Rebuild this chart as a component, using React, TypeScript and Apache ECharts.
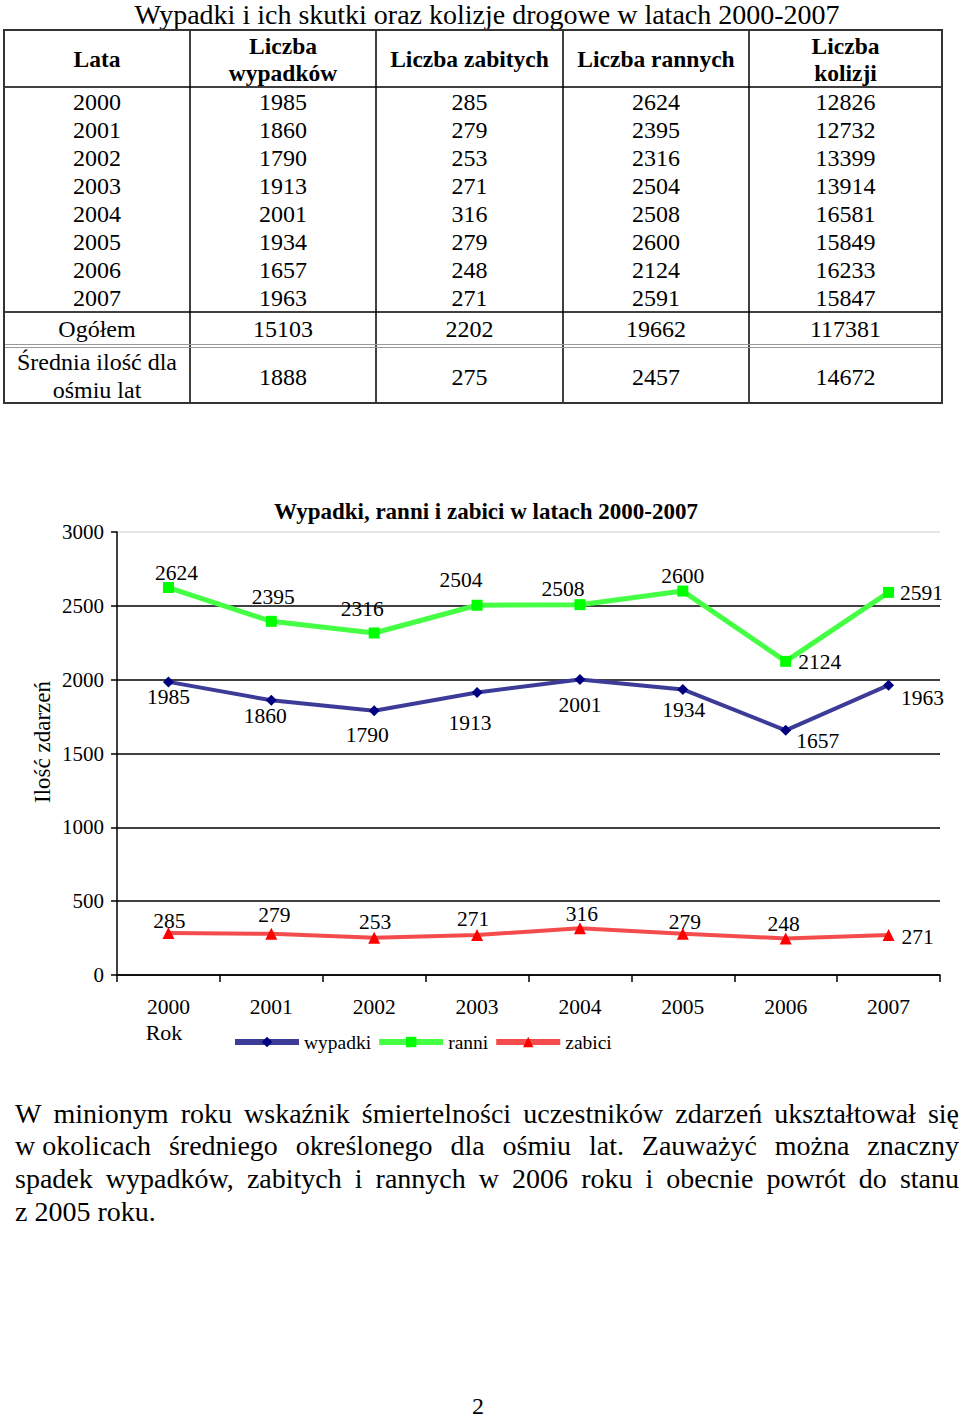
import React, { useEffect, useRef } from "react";
import * as echarts from "echarts";

// ---------- data ----------
const years = ["2000", "2001", "2002", "2003", "2004", "2005", "2006", "2007"];
const wypadki = [1985, 1860, 1790, 1913, 2001, 1934, 1657, 1963];
const zabici = [285, 279, 253, 271, 316, 279, 248, 271];
const ranni = [2624, 2395, 2316, 2504, 2508, 2600, 2124, 2591];
const kolizje = [12826, 12732, 13399, 13914, 16581, 15849, 16233, 15847];
const ogolem = [15103, 2202, 19662, 117381];
const srednia = [1888, 275, 2457, 14672];
const seriesNames = ["wypadki", "ranni", "zabici"];

const tableTitle = "Wypadki i ich skutki oraz kolizje drogowe w latach 2000-2007";
const headers = [["Lata"], ["Liczba", "wypadków"], ["Liczba zabitych"], ["Liczba rannych"], ["Liczba", "kolizji"]];
const ogolemLabel = "Ogółem";
const sredniaLabel = ["Średnia ilość dla", "ośmiu lat"];
const chartTitle = "Wypadki, ranni i zabici w latach 2000-2007";
const yAxisName = "Ilość zdarzeń";
const xAxisName = "Rok";
const paragraph = [
  ["W", "minionym", "roku", "wskaźnik", "śmiertelności", "uczestników", "zdarzeń", "ukształtował", "się"],
  ["w okolicach", "średniego", "określonego", "dla", "ośmiu", "lat.", "Zauważyć", "można", "znaczny"],
  ["spadek", "wypadków,", "zabitych", "i", "rannych", "w", "2006", "roku", "i", "obecnie", "powrót", "do", "stanu"],
  ["z 2005 roku."],
];
const pageNumber = "2";

// ---------- layout / style (label offsets relative to the point) ----------
const wypOff = [[0, 15], [-6, 16], [-7, 24], [-7, 30], [0, 25], [1, 21], [32, 11], [34, 13]];
const ranOff = [[8, -15], [2, -24], [-12, -24], [-16, -25], [-17, -16], [0, -15], [34, 1], [33, 1]];
const zabOff = [[1, -12], [3, -19], [1, -16], [-4, -16], [2, -14], [2, -12], [-2, -14], [29, 2]];

const FF = '"Liberation Serif", "Times New Roman", serif';

function measure(text: string, size: number, weight = "normal") {
  const c = document.createElement("canvas").getContext("2d") as CanvasRenderingContext2D;
  c.font = `${weight} ${size}px ${FF}`;
  return c.measureText(text).width;
}

function txt(text: string, x: number, y: number, size: number, opts: any = {}) {
  return {
    type: "text",
    x,
    y,
    rotation: opts.rotation || 0,
    scaleX: opts.scaleX || 1,
    style: {
      text,
      fill: "#000",
      fontSize: size,
      fontFamily: FF,
      fontWeight: opts.weight || "normal",
      align: opts.align || "center",
      verticalAlign: "middle",
    },
  };
}

function line(x1: number, y1: number, x2: number, y2: number, stroke = "#000", lw = 1.5) {
  return { type: "line", shape: { x1, y1, x2, y2 }, style: { stroke, lineWidth: lw } };
}

function buildGraphics() {
  const g: any[] = [];
  // table title
  g.push(txt(tableTitle, 487, 14, 28));
  const colX = [4, 190, 376, 563, 749, 942];
  const cx = colX.slice(0, 5).map((x, i) => (x + colX[i + 1]) / 2);
  const top = 30, bottom = 403;
  for (let i = 1; i < 5; i++) g.push(line(colX[i], top, colX[i], bottom, "#000", 1.5));
  g.push(line(4, 87, 942, 87, "#000", 1.5));
  g.push(line(4, 312, 942, 312, "#000", 1.5));
  g.push(line(4, 344.5, 942, 344.5, "#999", 1));
  g.push(line(4, 347.5, 942, 347.5, "#999", 1));
  g.push({ type: "rect", shape: { x: 4, y: top, width: 938, height: bottom - top }, style: { fill: "none", stroke: "#333", lineWidth: 2 } });
  const hs = 23.5, ds = 24;
  headers.forEach((h, i) => {
    if (h.length === 1) g.push(txt(h[0], cx[i], 59, hs, { weight: "bold" }));
    else {
      g.push(txt(h[0], cx[i], 46, hs, { weight: "bold" }));
      g.push(txt(h[1], cx[i], 73, hs, { weight: "bold" }));
    }
  });
  years.forEach((y, r) => {
    const yy = 102 + 28 * r;
    const vals = [y, wypadki[r], zabici[r], ranni[r], kolizje[r]];
    vals.forEach((v, i) => g.push(txt(String(v), cx[i], yy, ds)));
  });
  g.push(txt(ogolemLabel, cx[0], 329, ds));
  ogolem.forEach((v, i) => g.push(txt(String(v), cx[i + 1], 329, ds)));
  g.push(txt(sredniaLabel[0], cx[0], 362, ds));
  g.push(txt(sredniaLabel[1], cx[0], 390, ds));
  srednia.forEach((v, i) => g.push(txt(String(v), cx[i + 1], 377, ds)));

  // chart texts
  g.push(txt(chartTitle, 486, 511, 23, { weight: "bold" }));
  g.push(txt(yAxisName, 42, 742, 23, { rotation: Math.PI / 2 }));
  g.push(txt(xAxisName, 164, 1032, 22));

  // paragraph (justified)
  const pSize = 28, left = 15, right = 959;
  paragraph.forEach((words, li) => {
    const y = 1113 + 32.8 * li;
    const widths = words.map((w) => measure(w, pSize));
    const total = widths.reduce((a, b) => a + b, 0);
    const justify = li < paragraph.length - 1 && words.length > 1;
    const gap = justify ? (right - left - total) / (words.length - 1) : measure(" ", pSize);
    let x = left;
    words.forEach((w, i) => {
      g.push(txt(w, x, y, pSize, { align: "left" }));
      x += widths[i] + gap;
    });
  });

  g.push(txt(pageNumber, 478, 1406, 24));
  return g;
}

function makeData(values: number[], offs: number[][]) {
  return values.map((v, i) => ({ value: v, label: { offset: offs[i] } }));
}

export default function App() {
  const ref = useRef<HTMLDivElement>(null);
  useEffect(() => {
    if (!ref.current) return;
    const chart = echarts.init(ref.current, undefined, { renderer: "svg" });
    const labelBase = {
      show: true,
      position: "inside",
      color: "#000",
      fontSize: 21.5,
      fontFamily: FF,
      align: "center",
      verticalAlign: "middle",
    };
    chart.setOption({
      animation: false,
      backgroundColor: "#fff",
      textStyle: { fontFamily: FF },
      grid: { left: 117, top: 532, right: 20, bottom: 444, containLabel: false },
      xAxis: {
        type: "category",
        data: years,
        boundaryGap: true,
        axisLine: { lineStyle: { color: "#000", width: 1.5 } },
        axisTick: { show: true, length: 7, lineStyle: { color: "#000", width: 1.5 } },
        axisLabel: { color: "#000", fontSize: 21.5, fontFamily: FF, margin: 21 },
        splitLine: { show: false },
      },
      yAxis: {
        type: "value",
        min: 0,
        max: 3000,
        interval: 500,
        axisLine: { show: true, lineStyle: { color: "#000", width: 1.5 } },
        axisTick: { show: true, length: 6, lineStyle: { color: "#000", width: 1.5 } },
        axisLabel: { color: "#000", fontSize: 21, fontFamily: FF, margin: 13, formatter: (v: number) => String(v) },
        splitLine: {
          show: true,
          lineStyle: { color: ["#000", "#000", "#000", "#000", "#000", "#000", "#dcdcdc"], width: 1.5 },
        },
      },
      legend: {
        data: seriesNames,
        left: 227,
        top: 1027,
        itemWidth: 64,
        itemHeight: 13,
        itemGap: 5,
        lineStyle: { width: 6 },
        textStyle: { color: "#000", fontSize: 19.5, fontFamily: FF },
      },
      series: [
        {
          name: seriesNames[0],
          type: "line",
          data: makeData(wypadki, wypOff),
          symbol: "diamond",
          symbolSize: 11,
          itemStyle: { color: "#000080" },
          lineStyle: { color: "#3c3c98", width: 4 },
          label: labelBase,
          z: 3,
        },
        {
          name: seriesNames[1],
          type: "line",
          data: makeData(ranni, ranOff),
          symbol: "rect",
          symbolSize: 11,
          itemStyle: { color: "#00ff00" },
          lineStyle: { color: "#44ff44", width: 5 },
          label: labelBase,
          z: 3,
        },
        {
          name: seriesNames[2],
          type: "line",
          data: makeData(zabici, zabOff),
          symbol: "triangle",
          symbolSize: 12,
          itemStyle: { color: "#ff0000" },
          lineStyle: { color: "#f44c4c", width: 4 },
          label: labelBase,
          z: 3,
        },
      ],
      graphic: { elements: buildGraphics() },
    });
    return () => chart.dispose();
  }, []);
  return (
    <div
      ref={ref}
      style={{ position: "absolute", left: 0, top: 0, width: 960, height: 1419, background: "#fff" }}
    />
  );
}
